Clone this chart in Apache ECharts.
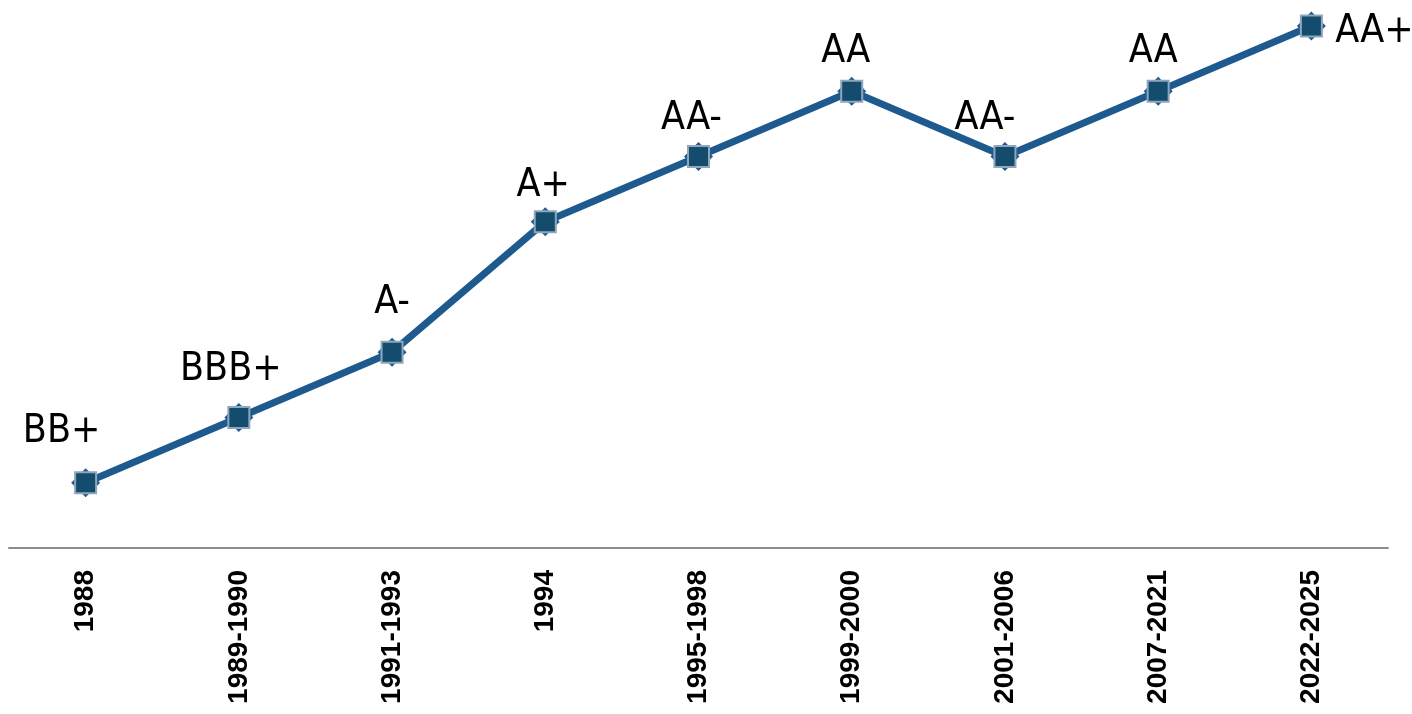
<!DOCTYPE html>
<html>
<head>
<meta charset="utf-8">
<script src="https://cdn.jsdelivr.net/npm/echarts@6/dist/echarts.min.js"></script>
<style>
html,body{margin:0;padding:0;background:#fff;}
#chart{width:1412px;height:714px;}
</style>
</head>
<body>
<div id="chart"></div>
<script>
// Data
var categories = ['1988','1989-1990','1991-1993','1994','1995-1998','1999-2000','2001-2006','2007-2021','2022-2025'];
var ratingLabels = ['BB+','BBB+','A-','A+','AA-','AA','AA-','AA','AA+'];
var ratingValues = [1, 2, 3, 5, 6, 7, 6, 7, 8];

// Label placement (style only)
var labelOffsets = [[-24,-51],[-8,-48],[0,-49],[-2,-36],[-7,-38],[-6,-39],[-20,-38],[-5,-39],[63,6]];

var chart = echarts.init(document.getElementById('chart'), null, {renderer:'canvas'});

var lineData = ratingValues.map(function(v, i){
  return {
    value: v,
    label: {
      show: true,
      position: 'inside',
      offset: labelOffsets[i],
      formatter: ratingLabels[i]
    }
  };
});

chart.setOption({
  animation: false,
  backgroundColor: '#ffffff',
  grid: {left: 9, right: 24, top: 26, bottom: 166, containLabel: false},
  xAxis: {
    type: 'category',
    data: categories,
    boundaryGap: true,
    axisLine: {show: true, lineStyle: {color: '#8c8c8c', width: 2}},
    axisTick: {show: false},
    axisLabel: {
      rotate: 90,
      interval: 0,
      margin: 22,
      color: '#000',
      fontFamily: "'Liberation Sans', Arial, sans-serif",
      fontWeight: 'bold',
      fontSize: 28
    }
  },
  yAxis: {
    type: 'value',
    min: 0,
    max: 8,
    interval: 1,
    show: false,
    splitLine: {show: false}
  },
  series: [
    {
      type: 'line',
      data: ratingValues,
      symbol: 'diamond',
      symbolSize: 29,
      lineStyle: {width: 0, opacity: 0},
      itemStyle: {color: '#1f5a8f'},
      silent: true,
      z: 2
    },
    {
      type: 'line',
      data: lineData,
      symbol: 'rect',
      symbolSize: 21,
      showAllSymbol: true,
      lineStyle: {color: '#1f5a8f', width: 7},
      itemStyle: {color: '#134c6d', borderColor: '#8fa6bb', borderWidth: 2},
      label: {
        color: '#000',
        fontFamily: "'DejaVu Sans Condensed', 'Liberation Sans', sans-serif",
        fontSize: 39
      },
      z: 3
    }
  ]
});
</script>
</body>
</html>
